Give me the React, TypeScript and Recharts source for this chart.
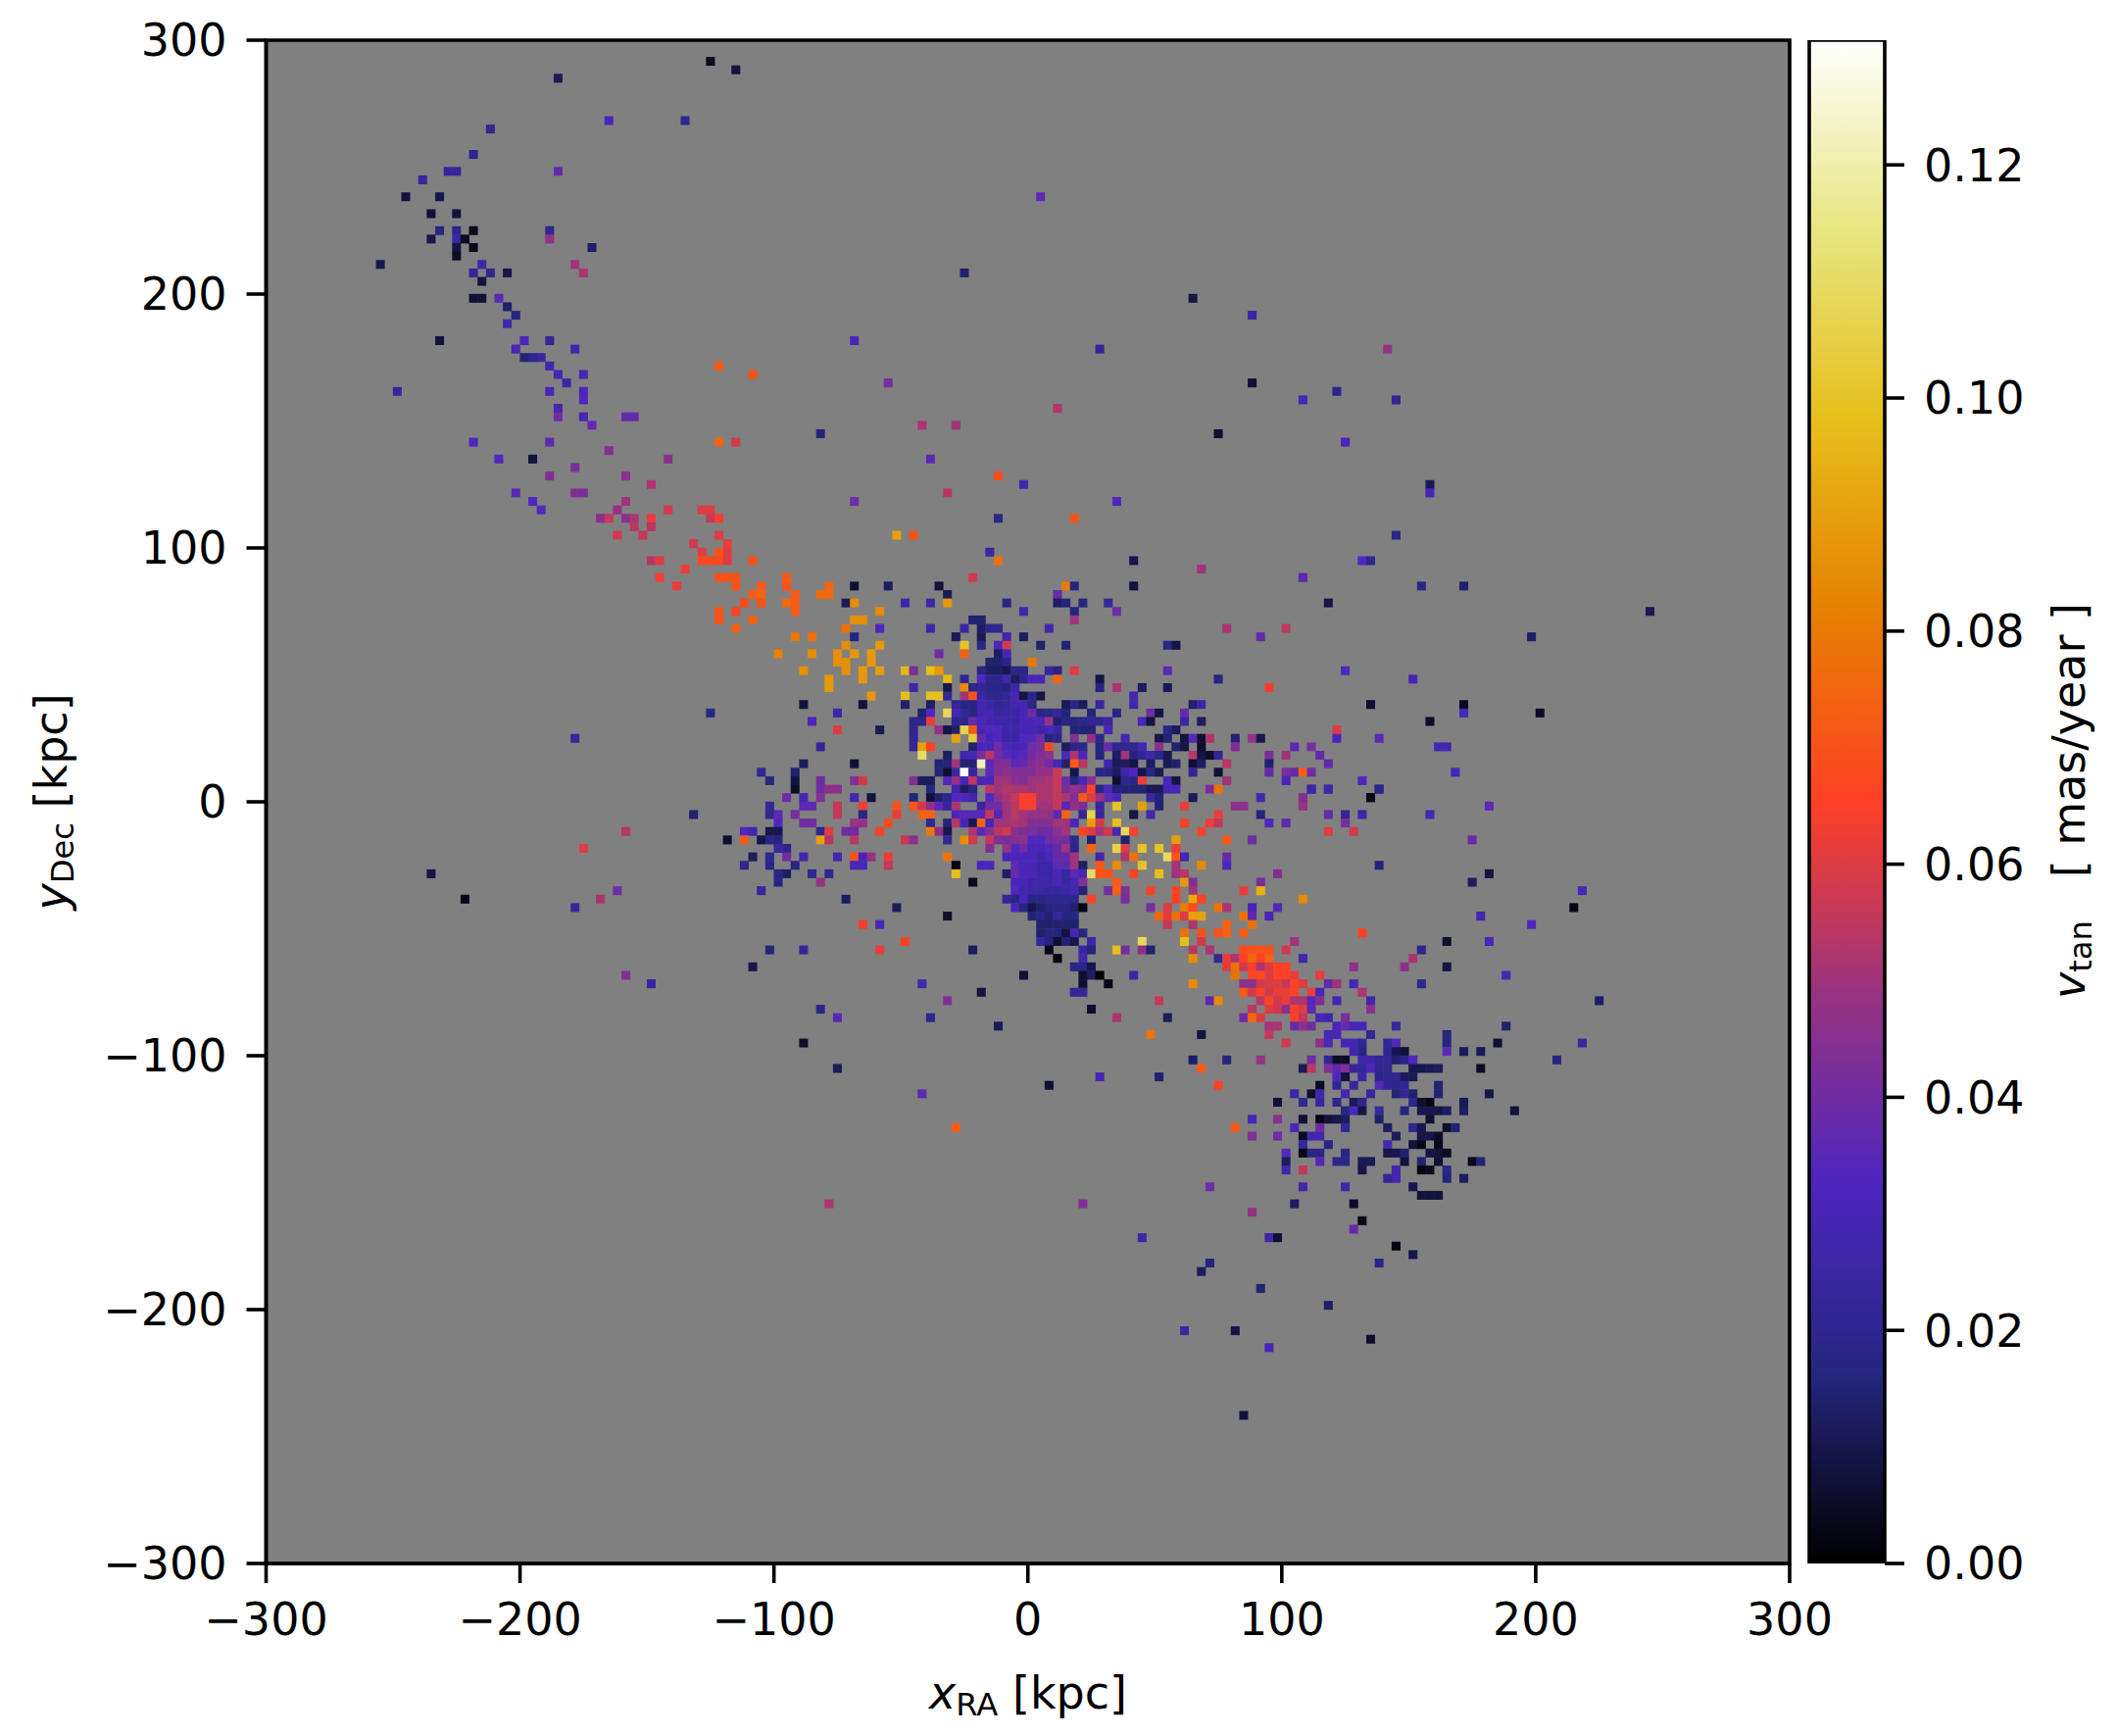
import React from 'react';
import { ScatterChart, Scatter, XAxis, YAxis, ReferenceArea, BarChart, Bar } from 'recharts';

// Every row: [row index j, then pairs of column index i and value in 0.001 mas/year]
const coreRows: number[][] = [
[29,-5,25],
[28,-4,78,12,10],
[27,20,50],
[26,-29,70,-7,58],
[25,-29,70,-24,75,-21,7,-17,12,-11,8,4,80,5,16,12,8],
[24,-28,72,-25,76,-24,76,-10,11,3,38],
[23,-29,76,-28,72,-22,11,-21,85,-15,27,-12,27,-10,88,-3,18,3,12,4,16,6,16,9,24],
[22,-28,72,-18,85,-1,27,5,16,10,40],
[21,-21,86,-20,86,-7,14,-6,14,5,50],
[20,-22,78,-18,33,-12,27,-8,25,-6,12,-5,20,-4,20,2,28,23,52],
[19,-28,80,-26,78,-21,16,-9,11,-6,11,-3,28,-1,13,27,38],
[18,-22,85,-18,88,-8,100,-6,17,-4,31,-3,58,1,14,4,15,16,18,17,9],
[17,-26,85,-23,86,-21,88,-19,88,-11,40,-8,74,-4,12,-3,30],
[16,-23,86,-22,86,-19,88,-5,14,-4,14,-3,18,0,80],
[15,-27,86,-22,86,-20,88,-18,90,-15,96,-14,42,-12,98,-11,88,-6,18,-5,13,-4,13,-3,10,-2,18,-1,18,2,24,3,18,5,60,16,36],
[14,-24,88,-20,88,-10,97,-8,20,-6,33,-5,20,-4,20,-3,28,-2,12,-1,19,0,31,1,31,3,74,8,9,22,16],
[13,-24,88,-14,27,-10,10,-8,85,-7,19,-6,22,-5,19,-4,19,-3,16,-2,26,8,16,10,52,13,12,16,11,28,63],
[12,-19,88,-15,98,-12,99,-11,99,-10,22,-8,50,-7,70,-6,25,-5,20,-4,20,-3,22,-2,30,-1,9,0,19,1,9,12,28],
[11,-27,8,-20,8,-15,14,-12,13,-9,22,-8,17,-7,18,-6,28,-5,26,-4,22,-3,24,-2,28,-1,30,0,17,4,11,5,18,6,12,8,24,12,28,19,14,20,26],
[10,-23,27,-13,14,-12,33,-10,108,-9,30,-8,22,-7,18,-6,28,-5,30,-4,24,-3,25,-2,26,-1,30,0,40,1,18,2,20,3,22,4,15,7,16,10,18,14,40,15,9,18,38],
[9,-26,31,-14,18,-13,18,-12,62,-9,18,-8,20,-7,38,-6,31,-5,28,-4,26,-3,26,-2,25,-1,31,0,31,1,31,2,48,3,14,4,17,5,17,6,19,7,21,8,21,9,25,13,31,14,8,18,25,20,12],
[8,-23,60,-18,11,-14,20,-11,48,-10,9,-9,14,-8,106,-7,72,-6,30,-5,33,-4,33,-3,27,-2,27,-1,30,0,30,1,27,2,30,3,25,5,15,6,15,7,15,9,30,16,18,17,12],
[7,-14,22,-9,90,-7,103,-6,38,-5,30,-4,33,-3,26,-2,26,-1,33,0,35,1,40,2,16,3,20,5,44,7,48,8,19,11,30,15,9,16,15,18,8,19,34,20,6,21,52,24,15,26,48,27,10],
[6,-25,22,-14,22,-13,90,-12,66,-7,14,-6,31,-5,31,-4,40,-3,31,-2,30,-1,31,0,40,1,42,2,68,4,12,5,18,6,19,8,16,9,38,10,20,11,20,12,20,13,28,15,46,17,14,18,9,20,6,24,44],
[5,-13,110,-10,13,-8,28,-7,30,-6,42,-5,54,-4,40,-3,35,-2,32,-1,35,0,40,1,44,2,47,4,31,5,52,6,30,8,16,10,13,11,50,12,16,13,22,14,27,15,20,16,11,19,54,20,9,21,6,22,22,28,42],
[4,-27,12,-21,7,-11,15,-10,15,-9,50,-8,15,-7,15,-6,122,-5,35,-4,44,-3,44,-2,36,-1,38,0,44,1,46,2,40,3,30,4,14,5,72,6,54,9,28,10,12,11,12,12,9,14,12,16,11,17,14,19,7,20,13,23,54,28,14],
[3,-28,14,-11,16,-10,6,-9,25,-8,130,-7,24,-5,36,-4,44,-3,46,-2,44,-1,44,0,44,1,47,2,47,3,57,5,10,8,18,9,18,10,12,11,27,12,33,13,9,14,18,15,11,19,22,22,7,28,38],
[2,-28,8,-25,40,-21,44,-20,58,-14,44,-13,12,-12,12,-10,34,-9,48,-8,30,-7,55,-6,31,-5,31,-4,50,-3,50,-2,46,-1,44,0,50,1,50,2,52,3,56,4,40,5,16,6,30,7,46,10,6,11,20,12,18,13,62,16,31,17,9,23,50],
[1,-28,5,-25,40,-24,46,-23,46,-12,16,-9,28,-8,13,-7,18,-5,54,-4,50,-3,53,-2,52,-1,52,0,50,1,52,2,52,3,56,4,42,5,47,6,44,7,66,8,17,9,31,10,15,11,15,12,15,13,15,14,11,15,11,16,30,17,30,21,42,22,78],
[0,-29,40,-27,30,-25,44,-21,30,-19,8,-14,16,-12,7,-11,14,-10,19,-9,33,-8,33,-7,28,-5,33,-4,46,-3,52,-2,56,-1,64,0,64,1,52,2,52,3,56,4,52,5,42,6,72,7,60,8,48,9,36,10,31,14,25,15,15,19,11,27,28],
[-1,-27,36,-26,36,-23,56,-20,63,-16,70,-14,70,-13,58,-12,46,-11,36,-10,22,-9,52,-6,25,-5,40,-4,40,-3,50,-2,54,-1,64,0,64,1,50,2,50,3,56,4,35,5,48,6,42,8,24,10,100,13,90,15,15,18,62,24,46,25,46],
[-2,-28,42,-23,56,-20,17,-16,62,-13,74,-12,74,-9,32,-8,35,-7,35,-6,35,-5,56,-4,34,-3,50,-2,54,-1,50,0,48,1,48,2,48,3,36,4,74,6,22,7,106,8,24,12,9,14,28,22,62,27,16],
[-3,-27,40,-26,40,-21,48,-20,48,-17,68,-12,20,-10,15,-9,54,-8,30,-7,10,-6,75,-5,30,-4,50,-3,50,-2,52,-1,50,0,44,1,44,2,44,3,50,4,50,5,31,7,90,8,58,10,98,18,66,21,63,22,55,28,33],
[-4,-25,20,-24,60,-22,40,-21,40,-18,66,-12,80,-11,46,-10,10,-7,52,-6,36,-5,44,-4,54,-3,58,-2,46,-1,42,0,42,1,40,2,40,3,46,4,50,6,66,7,60,8,50,9,58,10,28,11,108,12,64,20,66],
[-5,-25,90,-24,54,-21,54,-15,56,-14,46,-10,22,-8,85,-7,58,-5,56,-4,44,-3,42,-2,44,-1,46,0,33,1,33,2,40,3,42,4,40,5,20,7,15,11,14,17,90,23,72,26,40],
[-6,-29,18,-5,44,-3,48,-2,34,-1,40,0,30,1,30,2,34,3,38,4,50,5,19,7,75,10,106,11,60,13,100,15,100,17,62],
[-7,-29,40,-27,28,-23,28,-21,70,-20,30,-19,48,-17,62,-10,78,-3,30,-2,31,-1,31,0,31,1,27,2,31,3,38,4,38,5,50,8,27,11,52,12,78,16,110,17,70,18,30,23,38],
[-8,-28,17,-21,31,-20,31,-17,56,-9,2,-6,31,-5,31,-2,36,-1,31,0,31,1,26,2,26,3,36,4,36,5,50,6,13,8,72,10,85,13,100,17,50,20,85,23,32],
[-9,-29,13,-26,20,-24,20,-9,98,-3,13,-2,38,-1,31,0,31,1,26,2,26,3,31,4,24,5,36,6,30,7,110,8,70,9,70,12,66,15,98,17,50,18,54],
[-10,-25,48,-7,4,-2,31,-1,31,0,27,1,27,2,27,3,30,4,24,5,30,6,44,10,72,18,88,19,44,27,42],
[-11,-2,33,-1,28,0,26,1,26,2,24,3,24,4,26,5,28,6,15,9,40,10,74,11,44,14,66,17,66,19,50,25,62,27,94],
[-12,-22,12,-3,22,-2,17,-1,30,0,18,1,18,2,20,3,20,4,20,5,20,7,66,11,42,17,66,19,92,20,66],
[-13,-16,12,-2,31,-1,17,0,10,1,14,2,16,3,18,4,17,5,14,6,2,14,42,16,60,18,80,19,68,22,78,23,52,26,30],
[-14,-10,6,0,15,1,17,2,15,3,24,4,17,5,17,15,75,16,60,17,78,18,60,19,90,20,90,25,78,26,36,28,30],
[-15,-20,64,-18,30,1,14,2,14,3,14,4,14,5,14,16,56,19,52,23,74,26,78],
[-16,1,14,2,16,3,16,4,8,5,30,6,16,18,78,20,70,22,70,23,74,25,72],
[-17,-15,66,1,24,2,16,3,7,4,15,5,10,7,27,13,108,18,98,20,58],
[-18,-27,22,-18,62,-7,12,2,3,6,25,7,16,10,98,11,40,13,46,14,14,19,54,21,52,25,68,26,70,27,70,28,70],
[-19,3,1,6,28,19,86,22,22,23,62,24,52,25,66,26,76,27,66,28,74],
[-20,5,18,6,18,7,10,23,60,24,78,25,58,26,64,27,52,28,60],
[-21,-1,7,6,6,7,12,8,1,12,27,24,78,26,66,27,68,28,60],
[-22,-13,28,6,6,9,3,19,85,25,46,26,46,27,58,28,60],
[-23,-6,8,5,22,6,22,25,72,26,58,27,66,28,58],
[-24,-10,44,15,56,21,36,22,84,27,54,28,66],
[-25,-25,18,7,6,26,54,28,60],
[-26,-23,34,-12,19,10,52,16,12,25,40,26,76,27,60],
[-27,-4,11,28,50],
];

const eastRows: number[][] = [
[1,33,25,35,28,41,16],
[0,32,44,40,5],
[-1,32,48,54,36],
[-2,35,38,37,22,39,27,47,30],
[-3,30,36,37,42],
[-4,35,60,38,58],
[-5,52,38],
[-8,41,15],
[-9,29,44,54,8],
[-10,52,12],
[-12,32,84],
[-13,29,34],
[-14,53,28],
[-15,59,32],
[-16,39,66],
[-17,31,50,49,6,54,31],
[-18,30,58,46,20],
[-19,32,28,45,52],
[-20,29,66,30,66,38,46,44,46,49,9],
[-21,29,66,30,66,31,62,34,62,56,30],
[-22,29,60,30,56,31,66,32,60,35,36,36,50,38,30,46,20],
[-23,29,62,30,62,31,66,33,62,34,30,39,52],
[-24,29,58,30,62,31,52,32,52,33,34,34,44,36,30,40,28],
[-25,29,58,30,46,31,64,32,60,33,36,40,46],
[-26,31,66,32,56,34,30,35,27,37,42],
[-27,29,52,31,38,32,46,33,40,36,31,37,38,38,30,39,30,43,24,56,14],
[-28,14,78,20,8,28,56,35,30,36,30,40,22,49,16],
[-29,30,58,34,46,35,33,37,30,38,30,39,22,42,22,43,34,49,16,55,7,65,25],
[-30,38,28,39,17,42,20,43,10,44,7,49,36,51,12,53,11],
[-31,19,13,23,16,27,48,33,40,35,22,36,5,37,5,39,26,40,26,41,22,42,22,43,14,44,18,45,33,62,17],
[-32,20,72,32,11,33,55,35,44,36,36,37,44,38,22,39,22,40,32,41,20,42,20,45,10,46,10,47,11,48,12,53,5],
[-33,8,30,15,14,36,33,37,8,39,25,41,19,42,20,43,21,44,11,45,11],
[-34,2,7,22,66,34,4,36,22,38,24,41,34,42,21,43,19,44,22,48,15],
[-35,31,27,33,6,34,28,37,28,40,24,43,15,44,22,45,14,48,15,54,10],
[-36,29,7,32,20,34,24,36,20,38,11,39,20,45,20,46,6,47,3,51,11],
[-37,37,17,38,32,39,9,41,24,44,16,46,10,47,10,48,9,49,13,51,12,57,8],
[-38,26,31,29,46,32,7,34,2,35,8,36,10,37,12,41,14,47,6],
[-39,24,72,31,31,34,38,37,22,42,13,45,20,46,10,49,6,50,14],
[-40,26,44,29,40,32,4,33,28,34,28,43,12,46,9,47,9,48,5],
[-41,32,24,35,18,42,30,45,8,46,3,48,4],
[-42,30,34,32,3,33,18,34,18,37,18,42,9,43,10,44,14,47,9,48,8,49,5],
[-43,30,12,34,34,36,19,37,19,39,11,40,11,44,8,46,15,48,6,52,3,53,15],
[-44,30,28,32,56,39,10,43,28,46,2,47,4,49,18],
[-45,42,21,43,28,49,16,51,12],
[-46,21,40,32,28,37,27,45,10],
[-47,46,8,47,8,48,8],
[-48,6,44,31,12,38,5],
[-49,26,48],
[-50,39,2],
[-51,38,38],
[-52,13,27,28,27,29,7],
[-53,43,2],
[-54,45,10],
[-55,21,16,41,17],
[-56,20,12],
[-58,27,15],
[-60,35,13],
[-63,18,25,24,9],
[-64,40,6],
[-65,28,30],
[-73,25,8],
[-11,65,30],
[-13,64,3],
[-24,67,13],
];

const northEastRows: number[][] = [
[71,1,36],
[62,-8,14],
[59,19,9],
[57,26,25],
[53,8,22,42,48],
[49,-17,42,26,7],
[48,36,19],
[47,32,30,43,22],
[46,3,53],
[44,-13,52,-9,50],
[43,22,6],
[42,37,31],
[40,-12,36],
[38,-4,68],
[37,-1,28,47,11],
[36,-10,54,47,30],
[35,10,34],
[33,-4,18,5,70],
[31,-16,90,-14,70,43,19],
[28,39,33,40,21],
[26,32,36],
[25,46,18,51,14],
[23,35,9],
[22,73,11],
[20,30,55],
[19,59,13],
[15,37,33],
[14,45,30],
[11,40,6,51,4],
[10,51,30,60,5],
[9,47,5],
[8,36,60],
[7,36,31,41,36],
[6,31,36,33,42,48,29,49,29],
[5,30,50,34,38],
[4,35,37],
[3,30,42,31,38,32,74,33,40,50,30],
[2,30,31,39,33],
[1,33,26,35,27,41,18],
[0,40,3],
];

const streamRows: number[][] = [
[87,-38,4],
[86,-35,8],
[85,-56,11],
[80,-50,31,-41,20],
[79,-64,20],
[76,-66,20],
[74,-69,22,-68,22,-56,38],
[73,-72,24],
[71,-74,8,-70,10],
[69,-71,7,-68,8],
[67,-70,18,-68,20,-66,3,-57,20],
[66,-71,10,-68,25,-67,4,-57,47],
[65,-68,8,-66,3,-52,13],
[64,-68,5],
[63,-77,10,-65,27,-54,50],
[62,-66,22,-64,21,-62,10,-53,52],
[61,-65,8],
[59,-66,7,-65,7,-63,36],
[58,-62,14],
[57,-61,17],
[56,-62,29],
[54,-70,8,-60,31,-57,22,-21,31],
[53,-61,30,-54,28],
[52,-60,15,-59,20,-58,25],
[51,-57,28,-37,72],
[50,-56,30,-53,30,-33,70],
[49,-55,26],
[48,-75,24,-57,30,-53,32],
[47,-53,33],
[46,-56,30],
[45,-56,40,-53,30,-48,38,-47,38],
[44,-52,37],
[43,-25,16],
[42,-66,33,-57,36,-37,74,-35,58],
[41,-50,44],
[40,-63,34,-59,8,-43,46],
[39,-54,42],
[38,-57,44,-48,46],
[37,-45,52],
[36,-61,36,-54,44,-53,42],
[35,-59,33,-48,50,-21,40],
[34,-58,35,-49,48,-43,58,-39,60,-38,60],
[33,-51,46,-50,56,-48,46,-47,52,-45,62,-38,56,-37,64],
[32,-47,54,-45,54],
[31,-49,58,-46,56,-37,60],
[30,-40,58,-36,62],
[29,-39,60,-37,70,-36,60],
[28,-45,54,-44,60,-39,68,-38,68,-37,68,-36,60,-33,70],
[27,-41,62],
[26,-44,64,-37,70,-36,70,-35,70,-29,72],
[25,-42,62,-35,70,-32,72],
[24,-33,72,-32,74],
[23,-34,68,-32,70],
[22,-37,70,-35,66],
[21,-37,70,-33,74],
[20,-35,74],
[17,-30,82],
];

const westRows: number[][] = [
[10,-38,17],
[7,-54,24],
[3,-32,22],
[2,-31,17],
[-1,-31,22],
[-2,-40,14,-31,20,-30,36],
[-3,-30,33],
[-4,-48,54,-34,33,-33,28,-31,10,-30,10],
[-5,-36,6,-34,72,-32,9,-31,17,-30,16],
[-6,-53,60,-30,25],
[-7,-33,12,-31,20],
[-8,-34,20,-31,18],
[-9,-71,9,-30,17],
[-10,-30,17],
[-11,-49,40,-32,23],
[-12,-67,3,-51,52],
[-13,-54,24],
[-18,-31,16],
[-20,-33,10],
[-21,-48,44],
[-22,-45,24],
[-29,-27,6],
[-32,-23,11],
[-35,-13,36],
[-39,-9,72],
[-48,-24,52],
];

const xTicks = [-300, -200, -100, 0, 100, 200, 300];
const yTicks = [-300, -200, -100, 0, 100, 200, 300];
const barTicks = [0, 0.02, 0.04, 0.06, 0.08, 0.1, 0.12];
const BIN_KPC = 600 / 180;
const V_MAX = 0.1307;

// matplotlib CMRmap anchors
const cmr = [
  [0, 0, 0], [0.15, 0.15, 0.5], [0.3, 0.15, 0.75], [0.6, 0.2, 0.5], [1, 0.25, 0.15],
  [0.9, 0.5, 0], [0.9, 0.75, 0.1], [0.9, 0.9, 0.5], [1, 1, 1],
];
const rgb = (c: number[]) => `rgb(${c.map((q) => Math.round(q * 255)).join(',')})`;
function colorOf(v: number) {
  const t = Math.min(0.99999, Math.max(0, v / V_MAX)) * 8;
  const k = Math.floor(t);
  const f = t - k;
  return rgb(cmr[k].map((q, n) => q + (cmr[k + 1][n] - q) * f));
}

const cells: { x: number; y: number; v: number }[] = [];
[coreRows, eastRows, northEastRows, streamRows, westRows].forEach((rows) =>
  rows.forEach((r) => {
    for (let n = 1; n < r.length; n += 2) {
      cells.push({ x: (r[n] + 0.5) * BIN_KPC, y: (r[0] + 0.5) * BIN_KPC, v: r[n + 1] / 1000 });
    }
  })
);

const FONT = '"DejaVu Sans"';
const FS = 46;
const LEFT = 271.5, RIGHT = 1826, TOP = 41, BOTTOM = 1595;
const CELL_W = ((RIGHT - LEFT) / 600) * BIN_KPC;
const CELL_H = ((BOTTOM - TOP) / 600) * BIN_KPC;
const tick = { fontFamily: FONT, fontSize: FS, fill: '#000' };
const fmt = (v: number) => String(v).replace('-', '\u2212');
const axisLine = { stroke: '#000', strokeWidth: 3.6 };

function MathLabel({ x, y, rotate, sym, sub, rest }: any) {
  return (
    <text
      x={x}
      y={y}
      transform={rotate ? `rotate(-90 ${x} ${y})` : undefined}
      textAnchor="middle"
      fontFamily={FONT}
      fontSize={FS}
      fill="#000"
      style={{ whiteSpace: 'pre' }}
    >
      <tspan fontStyle="italic">{sym}</tspan>
      <tspan dy={7} fontSize={FS * 0.7}>{sub}</tspan>
      <tspan dy={-7}>{rest}</tspan>
    </text>
  );
}

const Cell = (p: any) => (
  <rect
    x={p.cx - CELL_W / 2 - 0.2}
    y={p.cy - CELL_H / 2 - 0.2}
    width={CELL_W + 0.4}
    height={CELL_H + 0.4}
    fill={colorOf(p.payload.v)}
  />
);

const barData = [{ name: 'v', top: V_MAX }];

export default function App() {
  return (
    <div style={{ position: 'absolute', left: 0, top: 0, width: 2160, height: 1771, background: '#fff' }}>
      <div style={{ position: 'absolute', left: 0, top: 0 }}>
        <ScatterChart
          width={2160}
          height={1771}
          margin={{ left: 0, right: 2160 - RIGHT, top: TOP, bottom: 0 }}
        >
          <XAxis
            type="number"
            dataKey="x"
            domain={[-300, 300]}
            ticks={xTicks}
            tickFormatter={fmt}
            tick={tick}
            tickSize={20}
            tickMargin={20}
            tickLine={axisLine}
            axisLine={axisLine}
            interval={0}
            height={1771 - BOTTOM}
            label={() => <MathLabel x={1049} y={1743} sym="x" sub="RA" rest=" [kpc]" />}
          />
          <YAxis
            type="number"
            dataKey="y"
            domain={[-300, 300]}
            ticks={yTicks}
            tickFormatter={fmt}
            tick={tick}
            tickSize={20}
            tickMargin={20}
            tickLine={axisLine}
            axisLine={axisLine}
            interval={0}
            width={LEFT}
            label={() => <MathLabel x={68} y={818} rotate sym="y" sub="Dec" rest=" [kpc]" />}
          />
          <ReferenceArea x1={-300} x2={300} y1={-300} y2={300} fill="#808080" fillOpacity={1} stroke="none" />
          <Scatter data={cells} isAnimationActive={false} shape={Cell} />
          <ReferenceArea x1={-300} x2={300} y1={-300} y2={300} fill="none" stroke="#000" strokeWidth={3.6} />
        </ScatterChart>
      </div>
      <div style={{ position: 'absolute', left: 0, top: 0 }}>
        <BarChart
          width={2160}
          height={1771}
          data={barData}
          barCategoryGap={0}
          margin={{ left: 1846, right: 0, top: TOP, bottom: 1771 - BOTTOM }}
        >
          <defs>
            <linearGradient id="cbGrad" x1="0" y1="1" x2="0" y2="0">
              {cmr.map((c, n) => (
                <stop key={n} offset={n / 8} stopColor={rgb(c)} />
              ))}
            </linearGradient>
          </defs>
          <XAxis dataKey="name" hide />
          <YAxis
            orientation="right"
            type="number"
            domain={[0, V_MAX]}
            allowDataOverflow
            ticks={barTicks}
            tickFormatter={(v: number) => v.toFixed(2)}
            tick={tick}
            tickSize={20}
            tickMargin={20}
            tickLine={axisLine}
            axisLine={false}
            interval={0}
            width={2160 - 1923}
            label={() => <MathLabel x={2127} y={817} rotate sym="v" sub="tan" rest="   [ mas/year ]" />}
          />
          <Bar dataKey="top" fill="url(#cbGrad)" stroke="#000" strokeWidth={3.6} isAnimationActive={false} />
        </BarChart>
      </div>
    </div>
  );
}
